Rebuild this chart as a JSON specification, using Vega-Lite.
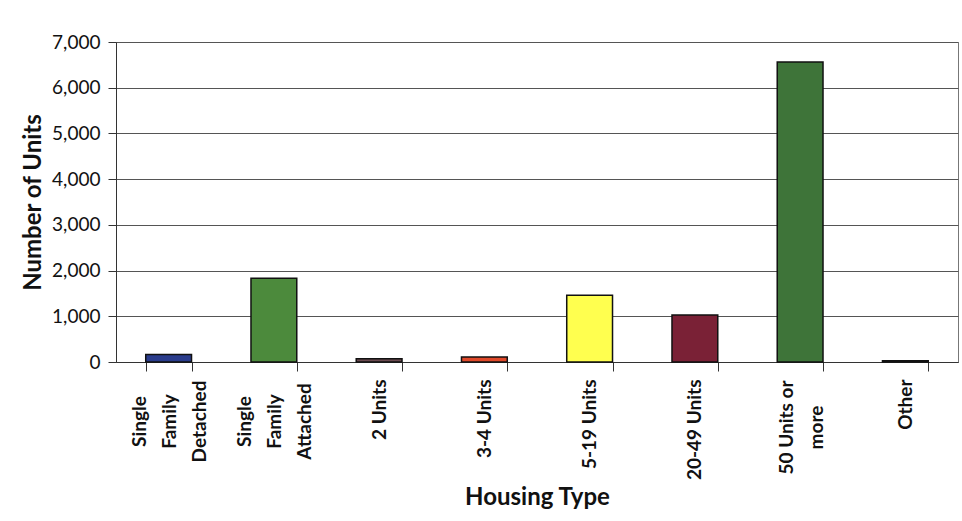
{
  "$schema": "https://vega.github.io/schema/vega-lite/v6.json",
  "width": 842,
  "height": 320,
  "autosize": "none",
  "padding": {"left": 116, "top": 42, "right": 4, "bottom": 159},
  "background": "white",
  "data": {
    "values": [
      {"type": "Single Family Detached", "units": 165, "color": "#2A3C8C"},
      {"type": "Single Family Attached", "units": 1830, "color": "#4C8A3C"},
      {"type": "2 Units", "units": 70, "color": "#6B4A50"},
      {"type": "3-4 Units", "units": 110, "color": "#E0492A"},
      {"type": "5-19 Units", "units": 1460, "color": "#FFFF4F"},
      {"type": "20-49 Units", "units": 1030, "color": "#7A2136"},
      {"type": "50 Units or more", "units": 6560, "color": "#3E7439"},
      {"type": "Other", "units": 30, "color": "#3F4A40"}
    ]
  },
  "mark": {"type": "bar", "stroke": "#111111", "strokeWidth": 1.5},
  "encoding": {
    "x": {
      "field": "type",
      "type": "nominal",
      "sort": null,
      "scale": {"paddingInner": 0.565, "paddingOuter": 0.2825},
      "axis": {
        "title": "Housing Type",
        "labelAngle": -90,
        "labelAlign": {
          "condition": {"test": "indexof(['Single Family Detached', 'Single Family Attached', '50 Units or more'], datum.value) >= 0", "value": "center"},
          "value": "right"
        },
        "labelPadding": {
          "condition": [
            {"test": "datum.value == '50 Units or more'", "value": 56},
            {"test": "indexof(['Single Family Detached', 'Single Family Attached'], datum.value) >= 0", "value": 50}
          ],
          "value": 8
        },
        "labelOffset": {
          "condition": [
            {"test": "datum.value == '50 Units or more'", "value": -14},
            {"test": "indexof(['Single Family Detached', 'Single Family Attached'], datum.value) >= 0", "value": -29}
          ],
          "value": 0
        },
        "labelBaseline": "middle",
        "labelFont": "Lato",
        "labelFontWeight": "bold",
        "labelFontSize": 19,
        "labelColor": "#111111",
        "labelLineHeight": 30,
        "labelExpr": "datum.value == 'Single Family Detached' ? ['Single', 'Family', 'Detached'] : datum.value == 'Single Family Attached' ? ['Single', 'Family', 'Attached'] : datum.value == '50 Units or more' ? ['50 Units or', 'more'] : datum.value",
        "tickBand": "extent",
        "tickSize": 9,
        "tickColor": "#333333",
        "domainColor": "#333333",
        "titleFont": "Lato",
        "titleFontWeight": "bold",
        "titleFontSize": 24,
        "titleColor": "#111111",
        "titlePadding": 6
      }
    },
    "y": {
      "field": "units",
      "type": "quantitative",
      "scale": {"domain": [0, 7000], "nice": false},
      "axis": {
        "title": "Number of Units",
        "values": [0, 1000, 2000, 3000, 4000, 5000, 6000, 7000],
        "format": ",d",
        "labelFont": "Lato",
        "labelFontSize": 19,
        "labelColor": "#111111",
        "labelPadding": 8,
        "tickSize": 8,
        "tickColor": "#333333",
        "domainColor": "#333333",
        "gridColor": "#555555",
        "gridWidth": 1,
        "titleFont": "Lato",
        "titleFontWeight": "bold",
        "titleFontSize": 24,
        "titleColor": "#111111",
        "titlePadding": 6
      }
    },
    "color": {"field": "color", "type": "nominal", "scale": null, "legend": null}
  },
  "config": {
    "view": {"stroke": "#777777", "strokeWidth": 1},
    "axis": {"domainWidth": 1, "tickWidth": 1}
  }
}
